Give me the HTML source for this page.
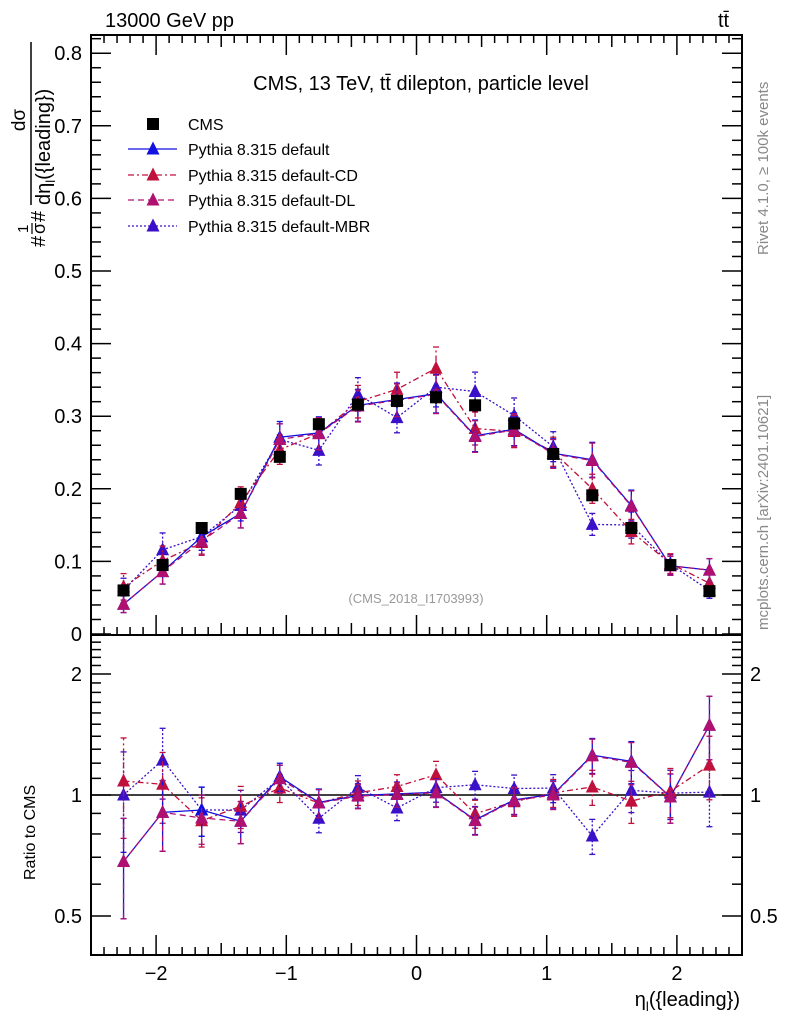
<!DOCTYPE html>
<html><head><meta charset="utf-8"><style>
body{margin:0;background:#fff;}
svg{display:block;font-family:"Liberation Sans",sans-serif;}
</style></head><body>
<svg id="c" width="786" height="1024" viewBox="0 0 786 1024">
<text x="105" y="27" font-size="20">13000 GeV pp</text>
<text x="718" y="27" font-size="20">tt̄</text>
<text x="421" y="90" font-size="20" text-anchor="middle">CMS, 13 TeV, tt̄ dilepton, particle level</text>
<text x="416" y="603" font-size="13" fill="#999" text-anchor="middle">(CMS_2018_I1703993)</text>
<text transform="translate(768,255) rotate(-90)" font-size="15" fill="#888">Rivet 4.1.0, ≥ 100k events</text>
<text transform="translate(768,630) rotate(-90)" font-size="15" fill="#888">mcplots.cern.ch [arXiv:2401.10621]</text>
<g transform="translate(0,247) rotate(-90)">
<text x="0" y="45" font-size="20">#</text>
<text x="14" y="28" font-size="15">1</text>
<line x1="13" y1="32" x2="24" y2="32" stroke="#000" stroke-width="1.2"/>
<text x="13" y="45" font-size="18">σ</text>
<text x="25" y="45" font-size="20">#</text>
<line x1="42" y1="31" x2="205" y2="31" stroke="#000" stroke-width="1.5"/>
<text x="127" y="25" font-size="19" text-anchor="middle">dσ</text>
<text x="42" y="50" font-size="20">dη<tspan font-size="13" dy="5">l</tspan><tspan dy="-5">({leading})</tspan></text>
</g>
<text transform="translate(35,880) rotate(-90)" font-size="16">Ratio to CMS</text>
<text x="740" y="1006" font-size="20" text-anchor="end">η<tspan font-size="13" dy="5">l</tspan><tspan dy="-5">({leading})</tspan></text>
<g id="g"></g>
</svg>
<script>
const binCenters=[-2.25,-1.95,-1.65,-1.35,-1.05,-0.75,-0.45,-0.15,0.15,0.45,0.75,1.05,1.35,1.65,1.95,2.25];
const cmsVals=[0.060,0.095,0.146,0.193,0.244,0.289,0.316,0.321,0.326,0.315,0.290,0.248,0.191,0.146,0.095,0.059];
const cmsErr=[0.004,0.005,0.006,0.007,0.008,0.008,0.009,0.009,0.009,0.009,0.008,0.008,0.007,0.006,0.005,0.004];
const defVals=[0.041,0.086,0.134,0.166,0.271,0.277,0.315,0.323,0.331,0.273,0.282,0.249,0.240,0.177,0.094,0.088];
const cdVals=[0.065,0.101,0.126,0.181,0.254,0.276,0.320,0.337,0.366,0.283,0.279,0.251,0.200,0.141,0.097,0.070];
const dlVals=[0.041,0.086,0.128,0.166,0.268,0.276,0.314,0.322,0.330,0.272,0.281,0.248,0.239,0.176,0.094,0.088];
const mbrVals=[0.060,0.116,0.134,0.177,0.268,0.253,0.330,0.298,0.340,0.334,0.301,0.258,0.151,0.150,0.096,0.060];
const relErr=[0.28,0.2,0.14,0.12,0.08,0.08,0.07,0.07,0.08,0.08,0.08,0.08,0.1,0.12,0.14,0.18];
const mainTicks=[0,0.1,0.2,0.3,0.4,0.5,0.6,0.7,0.8];
const ratioTicks=[0.5,1,2];
const xTicks=[-2,-1,0,1,2];
const series=[
 {name:'default-mbr',vals:mbrVals,col:'#3a10c8',dash:'2,2',label:'Pythia 8.315 default-MBR'},
 {name:'default-cd',vals:cdVals,col:'#c0103c',dash:'6,3,2,3',label:'Pythia 8.315 default-CD'},
 {name:'default',vals:defVals,col:'#1010e0',dash:'',label:'Pythia 8.315 default'},
 {name:'default-dl',vals:dlVals,col:'#b01070',dash:'6,4',label:'Pythia 8.315 default-DL'}];
const legendOrder=[2,1,3,0];
const L=91,R=742,T=35,MB=635,RB=955;
const X=v=>L+(v+2.5)/5*(R-L);
const Y=v=>634-v*726;
const YR=v=>795-Math.log2(v)*121;
const g=document.getElementById('g');
const NS='http://www.w3.org/2000/svg';
function mk(t,a,p){const e=document.createElementNS(NS,t);for(const k in a)e.setAttribute(k,a[k]);(p||g).appendChild(e);return e;}
function line(x1,y1,x2,y2,w,c,d){return mk('line',{x1,y1,x2,y2,stroke:c||'#000','stroke-width':w||1,'stroke-dasharray':d||''});}
function tri(x,y,c){return mk('polygon',{points:`${x-6.5},${y+5.5} ${x+6.5},${y+5.5} ${x},${y-7.5}`,fill:c});}
let f=mk('rect',{x:L,y:T,width:R-L,height:MB-T,fill:'none',stroke:'#000','stroke-width':2});

f=mk('rect',{x:L,y:MB,width:R-L,height:RB-MB,fill:'none',stroke:'#000','stroke-width':2});

for(let i=0;i<=41;i++){const v=i*0.02,y=Y(v);if(y<T)break;const maj=i%5==0;const l=maj?20:10;line(L,y,L+l,y,1.5);line(R,y,R-l,y,1.5);}
mainTicks.forEach(v=>{const t=mk('text',{x:82,y:Y(v)+7,'font-size':20,'text-anchor':'end'});t.textContent=v==0?'0':v.toFixed(1);
});
for(let i=-25;i<=25;i++){const x=X(i/10);const maj=i%10==0;const l=maj?20:(i%5==0?12:8);
line(x,MB,x,MB-l,1.5);line(x,T,x,T+l,1.5);line(x,RB,x,RB-l,1.5);}
xTicks.forEach(v=>{const t=mk('text',{x:X(v),y:980,'font-size':20,'text-anchor':'middle'});t.textContent=v<0?'−'+(-v):v;
});
for(let i=4;i<=25;i++){const v=i/10,y=YR(v);const maj=(v==0.5||v==1||v==2);const l=maj?20:10;line(L,y,L+l,y,1.5);line(R,y,R-l,y,1.5);}
ratioTicks.forEach(v=>{const y=YR(v)+7;let t=mk('text',{x:82,y,'font-size':20,'text-anchor':'end'});t.textContent=v;

t=mk('text',{x:750,y,'font-size':20});t.textContent=v;
});
let one=line(L,YR(1),R,YR(1),1.5,'#000');
series.forEach(s=>{
 const pts=binCenters.map((c,i)=>X(c)+','+Y(s.vals[i])).join(' ');
 let p=mk('polyline',{points:pts,fill:'none',stroke:s.col,'stroke-width':1.3,'stroke-dasharray':s.dash});
 
 const rp=binCenters.map((c,i)=>X(c)+','+YR(s.vals[i]/cmsVals[i])).join(' ');
 p=mk('polyline',{points:rp,fill:'none',stroke:s.col,'stroke-width':1.3,'stroke-dasharray':s.dash});
 
 binCenters.forEach((c,i)=>{const x=X(c),v=s.vals[i],e=v*relErr[i];
  line(x,Y(v-e),x,Y(v+e),1.3,s.col,s.dash);line(x-3,Y(v-e),x+3,Y(v-e),1.3,s.col);line(x-3,Y(v+e),x+3,Y(v+e),1.3,s.col);
  let m=tri(x,Y(v),s.col);
  const r=v/cmsVals[i],re=r*relErr[i];
  line(x,YR(Math.max(r-re,0.41)),x,YR(r+re),1.3,s.col,s.dash);line(x-3,YR(r-re),x+3,YR(r-re),1.3,s.col);line(x-3,YR(r+re),x+3,YR(r+re),1.3,s.col);
  m=tri(x,YR(r),s.col);
 });
});
binCenters.forEach((c,i)=>{const x=X(c),v=cmsVals[i];
 line(x,Y(v-cmsErr[i]),x,Y(v+cmsErr[i]),1.5);
 const m=mk('rect',{x:x-6,y:Y(v)-6,width:12,height:12,fill:'#000'});
 });
const ly=[124,149,175,200,226];
let lm=mk('rect',{x:147,y:ly[0]-6,width:12,height:12,fill:'#000'});

let lt=mk('text',{x:188,y:ly[0]+6,'font-size':16});lt.textContent='CMS';

legendOrder.forEach((si,k)=>{const s=series[si];const y=ly[k+1];
 line(128,y,177,y,1.3,s.col,s.dash);tri(153,y,s.col);
 const t=mk('text',{x:188,y:y+6,'font-size':16});t.textContent=s.label;
 });
</script>
</body></html>
